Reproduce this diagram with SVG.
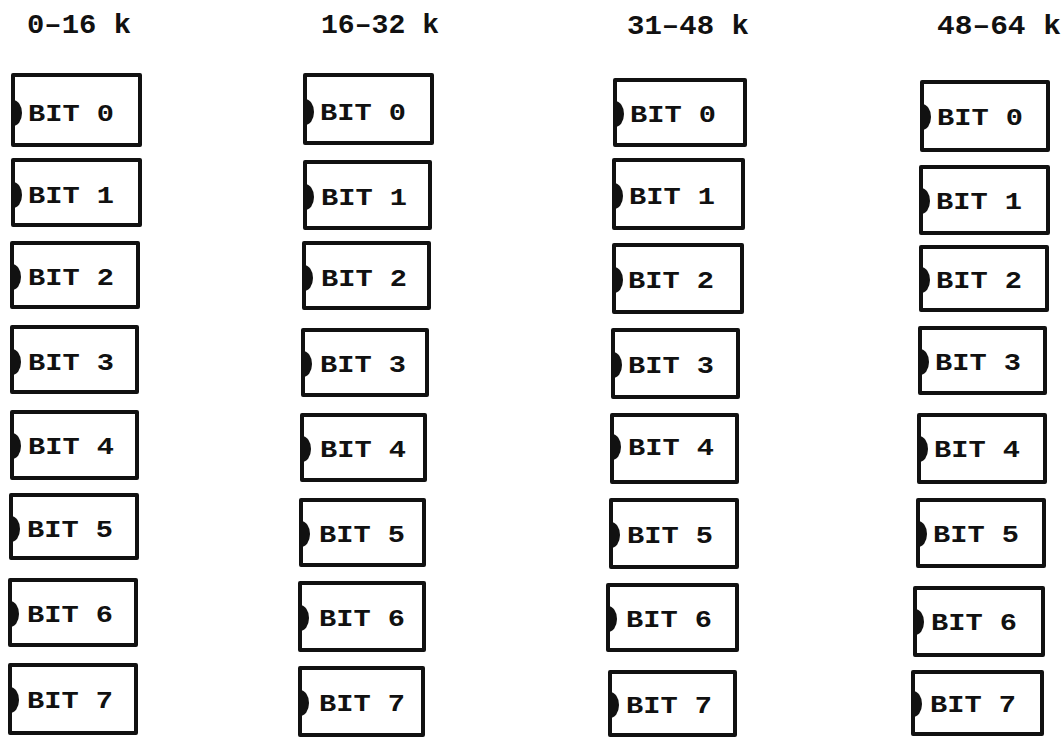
<svg xmlns="http://www.w3.org/2000/svg" width="1064" height="738" viewBox="0 0 1064 738">
<style>
.bg{fill:#fff}
.box{fill:#fff;stroke:#111;stroke-width:4;stroke-linejoin:round}
.notch{fill:#111}
.lbl{font-family:"Liberation Mono","DejaVu Sans Mono",monospace;font-weight:bold;font-size:23px;fill:#111}
.hdr{font-family:"Liberation Mono","DejaVu Sans Mono",monospace;font-weight:bold;font-size:27px;fill:#111}
</style>
<defs>
<path id="n" class="notch" d="M0,-13 A9,13 0 0 1 0,13 Z"/>
</defs>
<rect class="bg" x="0" y="0" width="1064" height="738"/>
<g id="headers">
<text class="hdr" x="27" y="33" textLength="104" lengthAdjust="spacingAndGlyphs">0–16 k</text>
<text class="hdr" x="321" y="33" textLength="118" lengthAdjust="spacingAndGlyphs">16–32 k</text>
<text class="hdr" x="627" y="34" textLength="122" lengthAdjust="spacingAndGlyphs">31–48 k</text>
<text class="hdr" x="937" y="34" textLength="124" lengthAdjust="spacingAndGlyphs">48–64 k</text>
</g>
<g id="connectors"></g>
<!-- column 1 -->
<g id="c1b0"><rect class="box" x="13" y="75" width="127" height="70"/><use href="#n" x="13" y="113"/><text class="lbl" x="28" y="121" textLength="86" lengthAdjust="spacingAndGlyphs">BIT 0</text></g>
<g id="c1b1"><rect class="box" x="13" y="160" width="127" height="65"/><use href="#n" x="13" y="195"/><text class="lbl" x="28" y="203" textLength="86" lengthAdjust="spacingAndGlyphs">BIT 1</text></g>
<g id="c1b2"><rect class="box" x="12" y="243" width="126" height="64"/><use href="#n" x="12" y="277"/><text class="lbl" x="28" y="285" textLength="86" lengthAdjust="spacingAndGlyphs">BIT 2</text></g>
<g id="c1b3"><rect class="box" x="12" y="327" width="125" height="65"/><use href="#n" x="12" y="362"/><text class="lbl" x="28" y="370" textLength="86" lengthAdjust="spacingAndGlyphs">BIT 3</text></g>
<g id="c1b4"><rect class="box" x="12" y="412" width="125" height="66"/><use href="#n" x="12" y="446"/><text class="lbl" x="28" y="454" textLength="86" lengthAdjust="spacingAndGlyphs">BIT 4</text></g>
<g id="c1b5"><rect class="box" x="11" y="495" width="126" height="63"/><use href="#n" x="11" y="529"/><text class="lbl" x="27" y="537" textLength="86" lengthAdjust="spacingAndGlyphs">BIT 5</text></g>
<g id="c1b6"><rect class="box" x="10" y="580" width="126" height="65"/><use href="#n" x="10" y="614"/><text class="lbl" x="27" y="622" textLength="86" lengthAdjust="spacingAndGlyphs">BIT 6</text></g>
<g id="c1b7"><rect class="box" x="10" y="665" width="126" height="68"/><use href="#n" x="10" y="700"/><text class="lbl" x="27" y="708" textLength="86" lengthAdjust="spacingAndGlyphs">BIT 7</text></g>
<!-- column 2 -->
<g id="c2b0"><rect class="box" x="305" y="75" width="127" height="68"/><use href="#n" x="305" y="112"/><text class="lbl" x="320" y="120" textLength="86" lengthAdjust="spacingAndGlyphs">BIT 0</text></g>
<g id="c2b1"><rect class="box" x="305" y="162" width="125" height="66"/><use href="#n" x="305" y="197"/><text class="lbl" x="321" y="205" textLength="86" lengthAdjust="spacingAndGlyphs">BIT 1</text></g>
<g id="c2b2"><rect class="box" x="304" y="243" width="125" height="65"/><use href="#n" x="304" y="278"/><text class="lbl" x="321" y="286" textLength="86" lengthAdjust="spacingAndGlyphs">BIT 2</text></g>
<g id="c2b3"><rect class="box" x="303" y="330" width="124" height="65"/><use href="#n" x="303" y="364"/><text class="lbl" x="320" y="372" textLength="86" lengthAdjust="spacingAndGlyphs">BIT 3</text></g>
<g id="c2b4"><rect class="box" x="302" y="415" width="123" height="65"/><use href="#n" x="302" y="449"/><text class="lbl" x="320" y="457" textLength="86" lengthAdjust="spacingAndGlyphs">BIT 4</text></g>
<g id="c2b5"><rect class="box" x="301" y="500" width="123" height="65"/><use href="#n" x="301" y="534"/><text class="lbl" x="319" y="542" textLength="86" lengthAdjust="spacingAndGlyphs">BIT 5</text></g>
<g id="c2b6"><rect class="box" x="300" y="583" width="124" height="67"/><use href="#n" x="300" y="618"/><text class="lbl" x="319" y="626" textLength="86" lengthAdjust="spacingAndGlyphs">BIT 6</text></g>
<g id="c2b7"><rect class="box" x="300" y="668" width="123" height="67"/><use href="#n" x="300" y="703"/><text class="lbl" x="319" y="711" textLength="86" lengthAdjust="spacingAndGlyphs">BIT 7</text></g>
<!-- column 3 -->
<g id="c3b0"><rect class="box" x="615" y="80" width="130" height="65"/><use href="#n" x="615" y="114"/><text class="lbl" x="630" y="122" textLength="86" lengthAdjust="spacingAndGlyphs">BIT 0</text></g>
<g id="c3b1"><rect class="box" x="614" y="160" width="129" height="68"/><use href="#n" x="614" y="196"/><text class="lbl" x="629" y="204" textLength="86" lengthAdjust="spacingAndGlyphs">BIT 1</text></g>
<g id="c3b2"><rect class="box" x="614" y="245" width="128" height="67"/><use href="#n" x="614" y="280"/><text class="lbl" x="628" y="288" textLength="86" lengthAdjust="spacingAndGlyphs">BIT 2</text></g>
<g id="c3b3"><rect class="box" x="613" y="330" width="125" height="67"/><use href="#n" x="613" y="365"/><text class="lbl" x="628" y="373" textLength="86" lengthAdjust="spacingAndGlyphs">BIT 3</text></g>
<g id="c3b4"><rect class="box" x="612" y="415" width="125" height="67"/><use href="#n" x="612" y="447"/><text class="lbl" x="628" y="455" textLength="86" lengthAdjust="spacingAndGlyphs">BIT 4</text></g>
<g id="c3b5"><rect class="box" x="611" y="500" width="126" height="67"/><use href="#n" x="611" y="535"/><text class="lbl" x="627" y="543" textLength="86" lengthAdjust="spacingAndGlyphs">BIT 5</text></g>
<g id="c3b6"><rect class="box" x="608" y="585" width="129" height="65"/><use href="#n" x="608" y="619"/><text class="lbl" x="626" y="627" textLength="86" lengthAdjust="spacingAndGlyphs">BIT 6</text></g>
<g id="c3b7"><rect class="box" x="610" y="672" width="125" height="63"/><use href="#n" x="610" y="705"/><text class="lbl" x="626" y="713" textLength="86" lengthAdjust="spacingAndGlyphs">BIT 7</text></g>
<!-- column 4 -->
<g id="c4b0"><rect class="box" x="922" y="82" width="126" height="68"/><use href="#n" x="922" y="117"/><text class="lbl" x="937" y="125" textLength="86" lengthAdjust="spacingAndGlyphs">BIT 0</text></g>
<g id="c4b1"><rect class="box" x="921" y="167" width="127" height="66"/><use href="#n" x="921" y="201"/><text class="lbl" x="936" y="209" textLength="86" lengthAdjust="spacingAndGlyphs">BIT 1</text></g>
<g id="c4b2"><rect class="box" x="921" y="247" width="126" height="63"/><use href="#n" x="921" y="280"/><text class="lbl" x="936" y="288" textLength="86" lengthAdjust="spacingAndGlyphs">BIT 2</text></g>
<g id="c4b3"><rect class="box" x="920" y="328" width="125" height="65"/><use href="#n" x="920" y="362"/><text class="lbl" x="935" y="370" textLength="86" lengthAdjust="spacingAndGlyphs">BIT 3</text></g>
<g id="c4b4"><rect class="box" x="919" y="415" width="126" height="67"/><use href="#n" x="919" y="449"/><text class="lbl" x="934" y="457" textLength="86" lengthAdjust="spacingAndGlyphs">BIT 4</text></g>
<g id="c4b5"><rect class="box" x="918" y="500" width="126" height="66"/><use href="#n" x="918" y="534"/><text class="lbl" x="933" y="542" textLength="86" lengthAdjust="spacingAndGlyphs">BIT 5</text></g>
<g id="c4b6"><rect class="box" x="915" y="588" width="128" height="67"/><use href="#n" x="915" y="622"/><text class="lbl" x="931" y="630" textLength="86" lengthAdjust="spacingAndGlyphs">BIT 6</text></g>
<g id="c4b7"><rect class="box" x="913" y="672" width="129" height="62"/><use href="#n" x="913" y="704"/><text class="lbl" x="930" y="712" textLength="86" lengthAdjust="spacingAndGlyphs">BIT 7</text></g>
</svg>
